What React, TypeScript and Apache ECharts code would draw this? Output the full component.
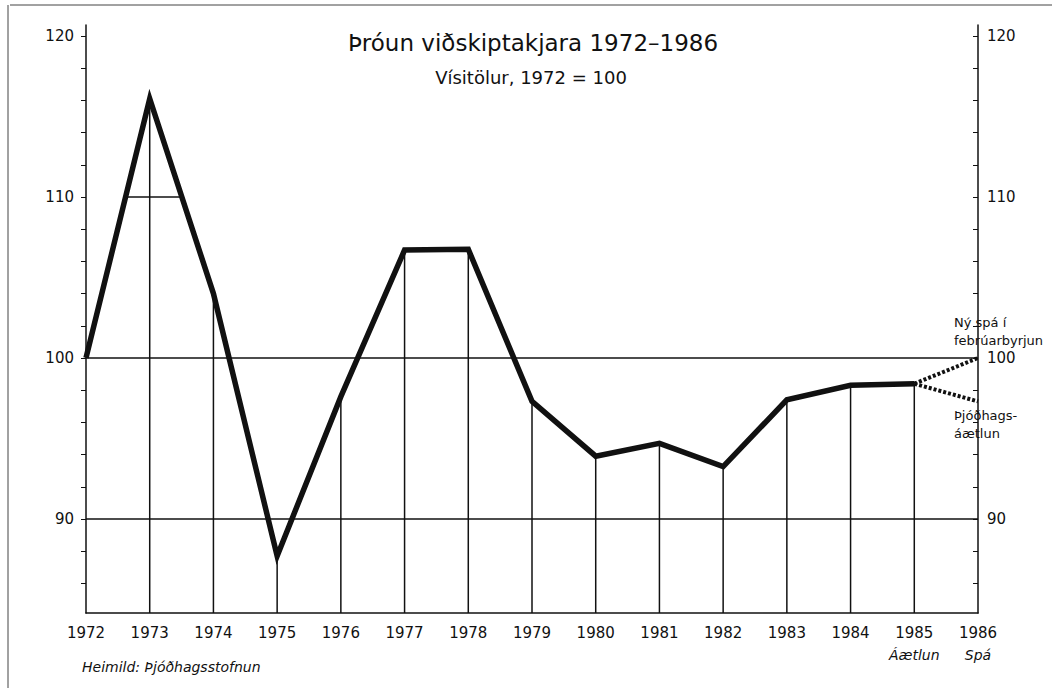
import React, { useEffect, useRef } from "react";
import * as echarts from "echarts";

const years = [1972, 1973, 1974, 1975, 1976, 1977, 1978, 1979, 1980, 1981, 1982, 1983, 1984, 1985];
const values = [100, 116.1, 104, 87.7, 97.6, 106.7, 106.75, 97.3, 93.9, 94.7, 93.25, 97.4, 98.3, 98.4];
const forecastYear = 1986;
const forecastNew = 100; // Ný spá í febrúarbyrjun
const forecastPlan = 97.3; // Þjóðhagsáætlun
const yLabels = [90, 100, 110, 120];
const yMinorTicks = [86, 88, 90, 92, 94, 96, 98, 100, 102, 104, 106, 108, 110, 112, 114, 116, 118, 120];
const fullGridLines = [90, 100];
const partialGridLine = 110;

const Y_MIN = 84.16;
const Y_MAX = 120.68;
const INK = "#111";
const FONT = "'DejaVu Sans', 'Liberation Sans', Arial, sans-serif";

// where the curve crosses a level (for the short 110 segment under the 1973 peak)
function crossings(level: number): number[] {
  const xs: number[] = [];
  for (let i = 0; i < years.length - 1; i++) {
    const a = values[i], b = values[i + 1];
    if ((a - level) * (b - level) < 0) {
      const t = (level - a) / (b - a);
      xs.push(years[i] + t * (years[i + 1] - years[i]));
    }
  }
  return xs;
}

export default function App() {
  const ref = useRef<HTMLDivElement>(null);
  useEffect(() => {
    if (!ref.current) return;
    const chart = echarts.init(ref.current, null, { renderer: "svg" });
    const cr = crossings(partialGridLine);
    const seg = cr.length >= 2 ? [[cr[0], partialGridLine], [cr[1], partialGridLine]] : [];
    const yAxisBase = {
      type: "value",
      min: Y_MIN,
      max: Y_MAX,
      axisLine: { show: true, lineStyle: { color: INK, width: 1.5 } },
      splitLine: { show: false },
    };
    chart.setOption({
      animation: false,
      backgroundColor: "#fff",
      grid: { left: 86, right: 77, top: 25, bottom: 75, containLabel: false },
      xAxis: {
        type: "value",
        min: 1972,
        max: 1986,
        interval: 1,
        axisLine: { show: true, lineStyle: { color: INK, width: 1.5 } },
        axisTick: { show: false },
        splitLine: { show: false },
        axisLabel: {
          fontSize: 15,
          color: INK,
          fontFamily: FONT,
          margin: 9,
          lineHeight: 22,
          formatter: (v: number) => {
            if (v === 1985) return "1985\n{i|Áætlun}";
            if (v === 1986) return "1986\n{i|Spá}";
            return String(v);
          },
          rich: { i: { fontStyle: "italic", fontSize: 14, color: INK, fontFamily: FONT, lineHeight: 22 } },
        },
      },
      yAxis: [
        {
          ...yAxisBase,
          position: "left",
          axisTick: { show: true, customValues: yMinorTicks, length: 5, inside: false, lineStyle: { color: INK } },
          axisLabel: { customValues: yLabels, fontSize: 15, color: INK, fontFamily: FONT, margin: 12 },
        },
        {
          ...yAxisBase,
          position: "right",
          axisTick: { show: true, customValues: yMinorTicks, length: 5, inside: true, lineStyle: { color: INK } },
          axisLabel: { customValues: yLabels, fontSize: 15, color: INK, fontFamily: FONT, margin: 9 },
        },
      ],
      series: [
        {
          type: "custom",
          silent: true,
          data: years.slice(1).map((y, i) => [y, values[i + 1]]),
          renderItem: (_p: any, api: any) => {
            const x = api.value(0), y = api.value(1);
            const p1 = api.coord([x, y]);
            const p2 = api.coord([x, Y_MIN]);
            return { type: "line", shape: { x1: p1[0], y1: p1[1], x2: p2[0], y2: p2[1] }, style: { stroke: INK, lineWidth: 1.5 } };
          },
          z: 1,
        },
        {
          type: "line",
          data: seg,
          symbol: "none",
          lineStyle: { color: INK, width: 1.5 },
          z: 1,
          markLine: {
            silent: true,
            symbol: "none",
            label: { show: false },
            lineStyle: { color: INK, width: 1.5, type: "solid" },
            data: fullGridLines.map((v) => ({ yAxis: v })),
          },
        },
        {
          type: "line",
          data: [[years[years.length - 1], values[values.length - 1]], [forecastYear, forecastNew]],
          symbol: "none",
          lineStyle: { color: INK, width: 4, type: [3, 2] },
          z: 2,
        },
        {
          type: "line",
          data: [[years[years.length - 1], values[values.length - 1]], [forecastYear, forecastPlan]],
          symbol: "none",
          lineStyle: { color: INK, width: 4, type: [3, 2] },
          z: 2,
        },
        {
          type: "line",
          data: years.map((y, i) => [y, values[i]]),
          symbol: "none",
          lineStyle: { color: INK, width: 5.5, join: "miter", miterLimit: 10 },
          z: 3,
        },
      ],
      graphic: [
        { type: "line", shape: { x1: 10, y1: 5, x2: 1052, y2: 5 }, style: { stroke: "#444", lineWidth: 1 } },
        { type: "line", shape: { x1: 8, y1: 5, x2: 8, y2: 688 }, style: { stroke: "#444", lineWidth: 1 } },
        {
          type: "text",
          x: 533,
          y: 43,
          style: { text: "Þróun viðskiptakjara 1972–1986", font: `23px ${FONT}`, fill: INK, textAlign: "center", textVerticalAlign: "middle" },
        },
        {
          type: "text",
          x: 531,
          y: 77,
          style: { text: "Vísitölur, 1972 = 100", font: `18px ${FONT}`, fill: INK, textAlign: "center", textVerticalAlign: "middle" },
        },
        {
          type: "text",
          x: 954,
          y: 331,
          style: { text: "Ný spá í\nfebrúarbyrjun", font: `13px ${FONT}`, fill: INK, lineHeight: 18, textAlign: "left", textVerticalAlign: "middle" },
        },
        {
          type: "text",
          x: 954,
          y: 424,
          style: { text: "Þjóðhags-\náætlun", font: `13px ${FONT}`, fill: INK, lineHeight: 18, textAlign: "left", textVerticalAlign: "middle" },
        },
        {
          type: "text",
          x: 82,
          y: 667,
          style: { text: "Heimild: Þjóðhagsstofnun", font: `italic 14px ${FONT}`, fill: INK, textAlign: "left", textVerticalAlign: "middle" },
        },
      ],
    });
    return () => chart.dispose();
  }, []);
  return <div ref={ref} style={{ position: "absolute", left: 0, top: 0, width: 1055, height: 688 }} />;
}
